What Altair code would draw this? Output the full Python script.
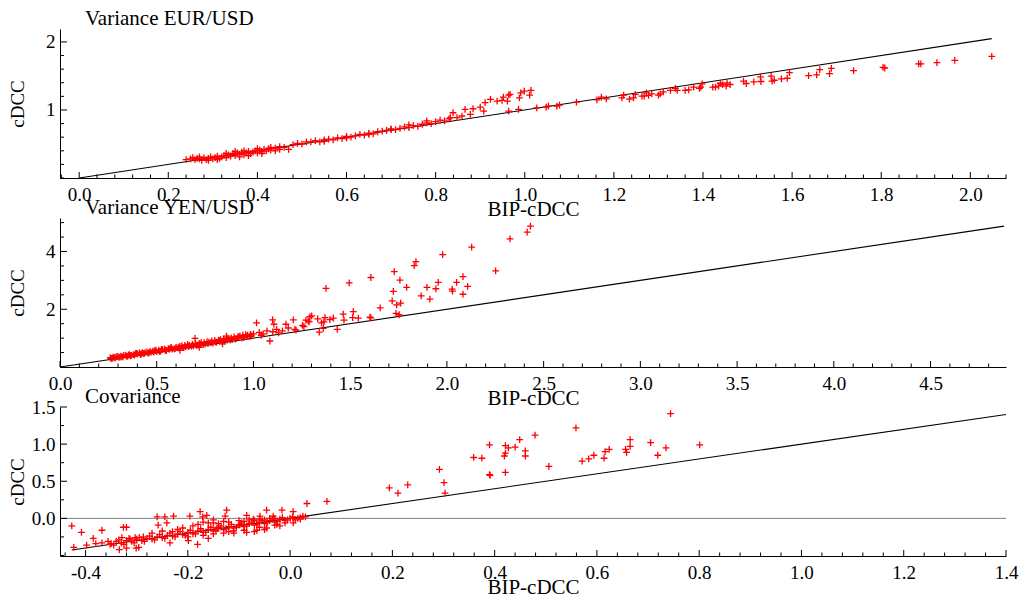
import altair as alt
import pandas as pd

FONT = "Liberation Serif"
RED = "#ff0000"
PLUS = "M-1,0L1,0M0,-1L0,1"
H = 149
W = 946

# ---------------- Panel 1: Variance EUR/USD ----------------
eur_x = [2.048, 1.965, 1.925, 1.889, 1.884, 1.808, 1.804, 1.738, 1.688, 1.684, 1.662, 1.655, 1.637,
         1.594, 1.589, 1.576, 1.560, 1.553, 1.555, 1.529, 1.530, 1.514, 1.497, 1.491, 1.461, 1.454,
         1.452, 1.444, 1.439, 1.435, 1.428, 1.422, 1.398, 1.392, 1.395, 1.379, 1.368, 1.360, 1.342,
         1.338, 1.327, 1.311, 1.304, 1.300, 1.285, 1.278, 1.273, 1.268, 1.263, 1.248, 1.244, 1.235,
         1.222, 1.218, 1.183, 1.172, 1.162, 1.116, 1.078, 1.072, 1.053, 1.048, 1.027, 1.014, 1.011,
         0.999, 0.991, 0.988, 0.986, 0.964, 0.964, 0.952, 0.949, 0.967, 0.961, 0.938, 0.923, 0.911,
         0.908, 0.900, 0.884, 0.878, 0.866, 0.859, 0.848, 0.839, 0.833,
         0.24, 0.25, 0.255, 0.26, 0.265, 0.27, 0.27, 0.275, 0.28, 0.285, 0.29, 0.29, 0.295, 0.30,
         0.305, 0.31, 0.31, 0.315, 0.32, 0.325, 0.33, 0.33, 0.335, 0.34, 0.345, 0.35, 0.35, 0.355,
         0.36, 0.36, 0.365, 0.37, 0.37, 0.375, 0.38, 0.38, 0.385, 0.39, 0.395, 0.40, 0.40, 0.405,
         0.41, 0.41, 0.415, 0.42, 0.425, 0.43, 0.43, 0.44, 0.44, 0.45, 0.45, 0.46, 0.47,
         0.48, 0.49, 0.50, 0.51, 0.52, 0.53, 0.54, 0.55, 0.56, 0.57, 0.58, 0.59, 0.60, 0.61, 0.62,
         0.63, 0.64, 0.65, 0.66, 0.67, 0.68, 0.69, 0.70, 0.71, 0.72, 0.73, 0.74, 0.75, 0.76, 0.77,
         0.78, 0.79, 0.80, 0.81, 0.82, 0.83, 0.55, 0.60, 0.65, 0.70, 0.74, 0.78]
eur_y = [1.788, 1.730, 1.695, 1.676, 1.676, 1.617, 1.627, 1.579, 1.612, 1.535, 1.594, 1.515, 1.506,
         1.550, 1.466, 1.456, 1.437, 1.496, 1.423, 1.485, 1.418, 1.412, 1.389, 1.423, 1.374, 1.398,
         1.349, 1.374, 1.393, 1.349, 1.335, 1.335, 1.383, 1.316, 1.335, 1.335, 1.295, 1.287, 1.287,
         1.316, 1.287, 1.266, 1.237, 1.218, 1.237, 1.213, 1.251, 1.203, 1.203, 1.228, 1.178, 1.159,
         1.218, 1.178, 1.164, 1.189, 1.149, 1.115, 1.072, 1.057, 1.057, 1.042, 1.032, 1.287, 1.218,
         1.276, 1.251, 1.178, 1.009, 0.984, 1.218, 1.189, 1.140, 1.228, 1.130, 1.130, 1.156, 1.107,
         0.984, 1.042, 1.018, 0.936, 1.009, 0.911, 0.886, 0.959, 0.886,
         0.27, 0.28, 0.30, 0.27, 0.29, 0.28, 0.31, 0.26, 0.30, 0.27, 0.29, 0.26, 0.31, 0.28,
         0.30, 0.32, 0.27, 0.29, 0.31, 0.33, 0.30, 0.36, 0.34, 0.32, 0.36, 0.33, 0.39, 0.37,
         0.35, 0.31, 0.38, 0.34, 0.40, 0.37, 0.39, 0.33, 0.36, 0.38, 0.40, 0.37, 0.43, 0.41,
         0.39, 0.36, 0.42, 0.40, 0.43, 0.41, 0.45, 0.44, 0.40, 0.42, 0.46, 0.45, 0.42,
         0.49, 0.51, 0.50, 0.53, 0.53, 0.55, 0.53, 0.56, 0.57, 0.56, 0.59, 0.58, 0.61, 0.60, 0.62,
         0.64, 0.63, 0.66, 0.65, 0.68, 0.69, 0.70, 0.71, 0.71, 0.73, 0.75, 0.74, 0.77, 0.76, 0.79,
         0.81, 0.80, 0.83, 0.85, 0.84, 0.87, 0.54, 0.59, 0.64, 0.72, 0.78, 0.84]
eur_line_x = [0.0, 2.048]
eur_line_y = [0.0, 2.048]

# ---------------- Panel 2: Variance YEN/USD ----------------
yen_x = [2.432, 2.415, 2.326, 2.128, 1.978, 2.252, 1.840, 1.831, 1.728, 1.607, 1.495, 1.375, 1.757,
         1.792, 1.723, 1.897, 1.955, 1.943, 1.867, 1.912, 2.027, 2.029, 2.050, 2.083, 2.107, 2.083,
         1.717, 1.740, 1.761, 1.737, 1.753, 1.655, 1.602, 1.607, 1.516, 1.513, 1.542, 1.464, 1.468,
         1.413, 1.395, 1.370, 1.364, 1.332, 1.292, 1.288, 1.271, 1.254, 1.433, 1.361, 1.016, 1.099,
         1.106, 1.168, 1.206, 1.214, 1.261, 1.283, 1.301, 1.085, 1.340, 1.352,
         1.03, 1.05, 1.07, 1.10, 1.12, 1.15, 1.18, 1.22, 1.04, 1.13,
         0.26, 0.28, 0.30, 0.32, 0.33, 0.35, 0.36, 0.38, 0.40, 0.41, 0.43, 0.45, 0.46, 0.48, 0.50,
         0.51, 0.53, 0.55, 0.56, 0.58, 0.60, 0.61, 0.63, 0.65, 0.66, 0.68, 0.70, 0.71, 0.73, 0.75,
         0.76, 0.78, 0.80, 0.81, 0.83, 0.85, 0.86, 0.88, 0.90, 0.91, 0.93, 0.95, 0.96, 0.98, 1.00,
         0.698, 0.861, 0.62, 0.72, 0.84, 0.27, 0.29, 0.31, 0.34, 0.37, 0.39, 0.42, 0.44, 0.47, 0.49,
         0.52, 0.54, 0.57, 0.59, 0.62, 0.64, 0.67, 0.69, 0.72, 0.74, 0.77, 0.79, 0.82, 0.84, 0.87,
         0.89, 0.92, 0.94, 0.97, 0.99,
         0.265, 0.275, 0.285, 0.295, 0.305, 0.315, 0.325, 0.345, 0.355, 0.365, 0.385, 0.395, 0.415,
         0.425, 0.435, 0.455, 0.465, 0.485, 0.495, 0.515, 0.525, 0.545, 0.565, 0.575, 0.595, 0.615,
         0.635, 0.645, 0.665, 0.685, 0.705, 0.725, 0.745, 0.765, 0.785, 0.805, 0.825, 0.845, 0.865,
         0.885, 0.905, 0.925, 0.945, 0.965, 0.985]
yen_y = [4.88, 4.67, 4.44, 4.15, 3.89, 3.33, 3.65, 3.51, 3.30, 3.10, 2.91, 2.72, 3.01,
         2.76, 2.62, 2.76, 2.93, 2.71, 2.46, 2.35, 2.70, 2.63, 2.93, 3.13, 2.79, 2.52,
         2.29, 2.15, 2.21, 1.86, 1.81, 2.05, 1.73, 1.70, 1.92, 1.71, 1.69, 1.83, 1.62,
         1.69, 1.64, 1.71, 1.56, 1.67, 1.74, 1.56, 1.62, 1.44, 1.30, 1.34, 1.53, 1.63,
         1.48, 1.48, 1.63, 1.30, 1.40, 1.59, 1.77, 0.90, 1.21, 1.53,
         1.20, 1.15, 1.25, 1.22, 1.30, 1.25, 1.35, 1.28, 1.10, 1.18,
         0.32, 0.33, 0.36, 0.35, 0.40, 0.38, 0.42, 0.43, 0.45, 0.49, 0.47, 0.52, 0.49, 0.55, 0.53,
         0.58, 0.60, 0.57, 0.64, 0.62, 0.68, 0.66, 0.74, 0.70, 0.78, 0.72, 0.80, 0.76, 0.84, 0.79,
         0.88, 0.84, 0.92, 0.86, 0.95, 0.90, 1.00, 0.93, 1.04, 0.98, 1.08, 1.02, 1.12, 1.05, 1.15,
         0.99, 1.07, 0.58, 0.68, 0.80, 0.30, 0.35, 0.34, 0.41, 0.40, 0.46, 0.45, 0.50, 0.51, 0.57,
         0.55, 0.62, 0.65, 0.63, 0.71, 0.67, 0.75, 0.73, 0.82, 0.78, 0.86, 0.83, 0.93, 0.89, 0.98,
         0.95, 1.06, 1.00, 1.10, 1.08,
         0.30, 0.34, 0.31, 0.36, 0.33, 0.38, 0.35, 0.37, 0.42, 0.39, 0.41, 0.47, 0.44,
         0.50, 0.46, 0.48, 0.54, 0.52, 0.58, 0.54, 0.61, 0.58, 0.61, 0.68, 0.64, 0.69,
         0.68, 0.75, 0.71, 0.78, 0.75, 0.79, 0.84, 0.81, 0.90, 0.86, 0.90, 0.97, 0.93,
         1.01, 0.97, 1.03, 1.10, 1.05, 1.13]
yen_line_x = [0.0, 4.88]
yen_line_y = [0.0, 4.88]

# ---------------- Panel 3: Covariance ----------------
cov_x = [0.744, 0.801, 0.705, 0.735, 0.719, 0.665, 0.665, 0.656, 0.658, 0.624, 0.616, 0.614, 0.594,
         0.584, 0.571, 0.559, 0.506, 0.479, 0.460, 0.460, 0.449, 0.440, 0.427, 0.421, 0.421, 0.419,
         0.421, 0.390, 0.391, 0.390, 0.375, 0.359, 0.301, 0.292, 0.303, 0.230, 0.211, 0.194, 0.072,
         0.033,
         -0.427, -0.423, -0.408, -0.398, -0.385, -0.380, -0.368, -0.368, -0.356, -0.352, -0.334,
         -0.329, -0.326, -0.320, -0.320, -0.313, -0.301, -0.296, -0.303, -0.287, -0.260, -0.245,
         -0.228, -0.258, -0.241, -0.235, -0.199, -0.196, -0.176, -0.171, -0.163, -0.181, -0.160,
         -0.124, -0.127, -0.150, -0.143, -0.111, -0.098, -0.085, -0.072, -0.059, -0.046, -0.033,
         -0.016, 0.006, -0.085, -0.065, -0.046, -0.026, 0.006, 0.020,
         -0.35, -0.34, -0.33, -0.32, -0.31, -0.30, -0.29, -0.28, -0.27, -0.26, -0.25, -0.24, -0.23,
         -0.22, -0.21, -0.20, -0.19, -0.18, -0.17, -0.16, -0.15, -0.14, -0.13, -0.12, -0.11, -0.10,
         -0.09, -0.08, -0.07, -0.06, -0.05, -0.04, -0.03, -0.02, -0.01, 0.00, 0.01, 0.02, 0.03,
         -0.17, -0.15, -0.13, -0.10, -0.08, -0.06, -0.04, -0.11, -0.07, -0.05, -0.02, -0.19, -0.21,
         -0.23,
         -0.345, -0.335, -0.325, -0.315, -0.305, -0.295, -0.285, -0.275, -0.265, -0.255, -0.245,
         -0.235, -0.225, -0.215, -0.205, -0.195, -0.185, -0.175, -0.165, -0.155, -0.145, -0.135,
         -0.125, -0.115, -0.105, -0.095, -0.085, -0.075, -0.065, -0.055, -0.045, -0.035, -0.025,
         -0.015, -0.005, 0.005, 0.015, 0.025,
         -0.18, -0.16, -0.14, -0.12, -0.09, -0.07, -0.05, -0.03, -0.13, -0.09, -0.06, -0.03, -0.01,
         -0.27, -0.25, -0.22, -0.20, -0.17, -0.15, -0.12]
cov_y = [1.41, 0.99, 1.02, 0.95, 0.85, 1.06, 0.97, 0.93, 0.89, 0.93, 0.90, 0.81, 0.85,
         0.80, 0.77, 1.22, 0.70, 1.12, 0.91, 0.84, 1.06, 0.96, 0.95, 0.98, 0.88, 0.84,
         0.62, 0.59, 0.58, 0.99, 0.81, 0.82, 0.48, 0.66, 0.34, 0.45, 0.34, 0.41, 0.23,
         0.20,
         -0.10, -0.39, -0.19, -0.36, -0.27, -0.34, -0.16, -0.33, -0.31, -0.35, -0.42,
         -0.26, -0.12, -0.12, -0.40, -0.28, -0.40, -0.39, -0.26, -0.25, 0.02, 0.02,
         0.03, -0.09, -0.06, -0.33, -0.30, 0.03, 0.09, 0.02, 0.04, -0.35, -0.27,
         0.11, 0.03, -0.06, -0.13, -0.17, -0.08, 0.04, -0.01, 0.03, 0.11, 0.03,
         0.11, 0.09, -0.19, -0.16, -0.13, -0.08, -0.06, -0.01,
         -0.34, -0.31, -0.33, -0.30, -0.31, -0.28, -0.30, -0.27, -0.28, -0.25, -0.26, -0.23, -0.24,
         -0.21, -0.22, -0.19, -0.21, -0.17, -0.19, -0.15, -0.17, -0.12, -0.15, -0.11, -0.13, -0.09,
         -0.11, -0.07, -0.09, -0.05, -0.07, -0.03, -0.05, -0.01, -0.03, 0.00, -0.02, 0.01, 0.02,
         -0.05, -0.02, -0.04, -0.03, -0.02, -0.01, 0.00, -0.20, -0.18, -0.15, -0.10, -0.10, -0.13,
         -0.18,
         -0.36, -0.29, -0.35, -0.27, -0.33, -0.26, -0.31, -0.24, -0.29, -0.22, -0.27,
         -0.20, -0.25, -0.18, -0.23, -0.16, -0.21, -0.14, -0.19, -0.12, -0.17, -0.10,
         -0.14, -0.08, -0.12, -0.06, -0.10, -0.05, -0.08, -0.03, -0.06, -0.01, -0.04,
         0.01, -0.02, 0.02, 0.00, 0.03,
         -0.08, -0.06, -0.07, -0.05, -0.04, -0.03, -0.02, 0.00, -0.20, -0.16, -0.12, -0.09, -0.06,
         -0.20, -0.17, -0.15, -0.25, -0.23, -0.21, -0.18]
cov_line_x = [-0.427, 1.40]
cov_line_y = [-0.427, 1.40]
cov_zero = [0.0]

# axis tick values
p1_xmaj = [0.0, 0.2, 0.4, 0.6, 0.8, 1.0, 1.2, 1.4, 1.6, 1.8, 2.0]
p1_ymaj = [1, 2]
p2_xmaj = [0.0, 0.5, 1.0, 1.5, 2.0, 2.5, 3.0, 3.5, 4.0, 4.5]
p2_ymaj = [2, 4]
p3_xmaj = [-0.4, -0.2, 0.0, 0.2, 0.4, 0.6, 0.8, 1.0, 1.2, 1.4]
p3_ymaj = [0.0, 0.5, 1.0, 1.5]


def minors(lo, hi, step, majors):
    out = []
    k = int(round(lo / step)) - 1
    while k * step <= hi + 1e-9:
        v = round(k * step, 4)
        if lo - 1e-9 <= v <= hi + 1e-9 and all(abs(v - m) > 1e-6 for m in majors):
            out.append(v)
        k += 1
    return out


LABEL_EXPR = "datum.value < 0 ? '-' + format(-datum.value, '.1f') : format(datum.value, '.1f')"


def panel(title, px, py, lx, ly, xdom, ydom, xmaj, xstep, ymaj, ystep, yfmt, zero=None):
    xs = alt.Scale(domain=xdom, nice=False, zero=False)
    ys = alt.Scale(domain=ydom, nice=False, zero=False)
    xax = alt.Axis(values=xmaj, ticks=False, grid=False, labelExpr=LABEL_EXPR,
                   title="BIP-cDCC", titleY=37, titleBaseline="alphabetic",
                   labelPadding=7, labelFlush=False, labelOverlap=False)
    yax = alt.Axis(values=ymaj, ticks=False, grid=False, format=yfmt,
                   title="cDCC", titleX=-43, titleBaseline="middle", titleAngle=-90,
                   labelPadding=5, labelOverlap=False)
    X = lambda: alt.X("x:Q", scale=xs, axis=xax)
    Y = lambda: alt.Y("y:Q", scale=ys, axis=yax)

    layers = []
    if zero is not None:
        layers.append(alt.Chart(pd.DataFrame({"y": zero})).mark_rule(
            color="#808080", strokeWidth=1).encode(y=Y()))
    layers.append(alt.Chart(pd.DataFrame({"x": lx, "y": ly})).mark_line(
        color="black", strokeWidth=1.1).encode(x=X(), y=Y()))
    layers.append(alt.Chart(pd.DataFrame({"x": px, "y": py})).mark_point(
        shape=PLUS, filled=False, color=RED, strokeWidth=1.3, size=46, opacity=1
    ).encode(x=X(), y=Y()))

    xmin_t = minors(xdom[0], xdom[1], xstep, xmaj)
    ymin_t = minors(ydom[0], ydom[1], ystep, ymaj)
    xmaj_t = [v for v in xmaj if xdom[0] <= v <= xdom[1]]
    ymaj_t = [v for v in ymaj if ydom[0] <= v <= ydom[1]]
    layers.append(alt.Chart(pd.DataFrame({"x": xmaj_t})).mark_rule(color="black", strokeWidth=1)
                  .encode(x=X(), y=alt.value(H), y2=alt.value(H - 6)))
    layers.append(alt.Chart(pd.DataFrame({"x": xmin_t})).mark_rule(color="black", strokeWidth=1)
                  .encode(x=X(), y=alt.value(H), y2=alt.value(H - 3.5)))
    layers.append(alt.Chart(pd.DataFrame({"y": ymaj_t})).mark_rule(color="black", strokeWidth=1)
                  .encode(y=Y(), x=alt.value(0), x2=alt.value(7)))
    layers.append(alt.Chart(pd.DataFrame({"y": ymin_t})).mark_rule(color="black", strokeWidth=1)
                  .encode(y=Y(), x=alt.value(0), x2=alt.value(4)))
    # panel title as a text placed just above the plot area
    layers.append(alt.Chart(pd.DataFrame({"t": [title]})).mark_text(
        align="left", baseline="alphabetic", font=FONT, fontSize=21, color="black"
    ).encode(text="t:N", x=alt.value(25), y=alt.value(-4)))

    return alt.layer(*layers).properties(width=W, height=H)


p1 = panel("Variance EUR/USD", eur_x, eur_y, eur_line_x, eur_line_y,
           [-0.043, 2.08], [0.0, 2.19], p1_xmaj, 0.04, p1_ymaj, 0.2, "d")
p2 = panel("Variance YEN/USD", yen_x, yen_y, yen_line_x, yen_line_y,
           [0.0, 4.89], [0.0, 5.16], p2_xmaj, 0.1, p2_ymaj, 0.5, "d")
p3 = panel("Covariance", cov_x, cov_y, cov_line_x, cov_line_y,
           [-0.45, 1.40], [-0.507, 1.5], p3_xmaj, 0.04, p3_ymaj, 0.25, ".1f", zero=cov_zero)

chart = alt.vconcat(p1, p2, p3, spacing=40, bounds="flush").configure_view(
    stroke=None
).configure_axis(
    domainColor="black", domainWidth=1, labelFont=FONT, labelFontSize=19,
    labelColor="black", titleFont=FONT, titleFontSize=21, titleFontWeight="normal",
    titleColor="black",
).configure_axisY(titleFontSize=19).properties(
    padding={"left": 0, "top": 0, "right": 5, "bottom": 0}
)

chart.save("out.html", embed_options={"renderer": "svg", "actions": False})
